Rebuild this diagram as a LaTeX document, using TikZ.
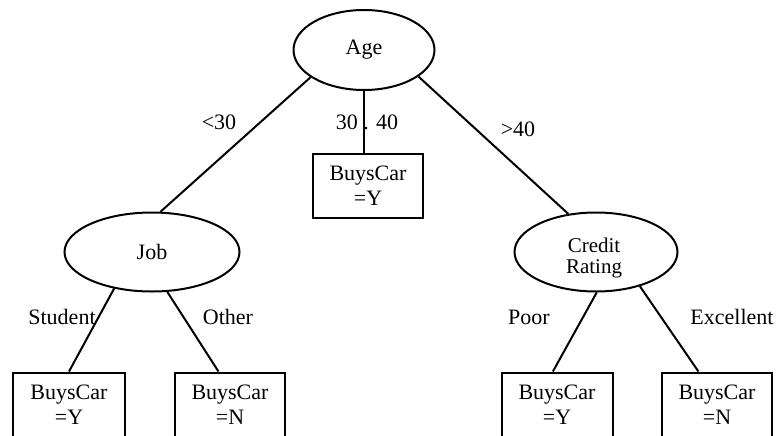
\documentclass[tikz,border=0pt]{standalone}
\usepackage{fontspec}
\setmainfont{Liberation Serif}
\usetikzlibrary{shapes.geometric}

\begin{document}
\begin{tikzpicture}
  [x=1pt,y=-1pt,
    every node/.style={font=\fontsize{22}{25}\selectfont},
    test/.style={draw,ellipse,line width=2pt,inner sep=0pt},
    leaf/.style={draw,rectangle,line width=2pt,minimum width=110pt,
      minimum height=65pt,align=center,inner sep=0pt},
    branch/.style={line width=2pt}]
  \clip (0,0) rectangle (776,436);
  \useasboundingbox (0,0) rectangle (776,436);
  % inner nodes
  \node[test,minimum width=141pt,minimum height=80pt] (age) at (364,50) {Age};
  \node[test,minimum width=175pt,minimum height=79pt] (job) at (152,252) {Job};
  \node[test,minimum width=163pt,minimum height=79pt] (credit) at (596,252) {};
  \node[align=center,font=\fontsize{21}{21}\selectfont] (creditname)
    at (594,258) {Credit\\Rating};
  % leaves
  \node[leaf,minimum height=64pt] (mid) at (368,186) {BuysCar\\=Y};
  \node[leaf,minimum width=112pt] (b1) at (69,405) {BuysCar\\=Y};
  \node[leaf] (b2) at (230,405) {BuysCar\\=N};
  \node[leaf,minimum width=111pt] (b3) at (557,405) {BuysCar\\=Y};
  \node[leaf] (b4) at (717,405) {BuysCar\\=N};
  % branch labels
  \node (lt30) at (219,122) {<30};
  \node (mid30) at (367,122) {30 . 40};
  \node (gt40) at (518,129) {>40};
  \node (student) at (62,317) {Student};
  \node (other) at (228,317) {Other};
  \node (poor) at (529,317) {Poor};
  \node (excellent) at (732,317) {Excellent};
  % branches
  \draw[branch] (age.207) -- (job.78);
  \draw[line width=1.2pt] (age.south) -- (age.south |- mid.north);
  \draw[branch] (age.334) -- (credit.126);
  \draw[branch] (job.224) -- (b1.north);
  \draw[branch] (job.291) -- (b2.109);
  \draw[branch] (credit.271) -- (b3.97);
  \draw[branch] (credit.322) -- (b4.119);
\end{tikzpicture}
\end{document}
